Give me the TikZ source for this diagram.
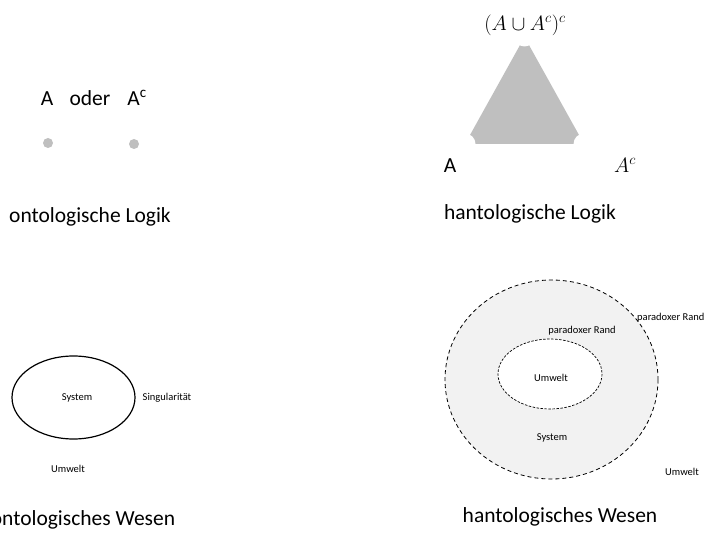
\documentclass[tikz,border=0pt]{standalone}
\usepackage{fontspec}
\setmainfont{Carlito}
\begin{document}
\begin{tikzpicture}[x=1pt,y=-1pt,
  big/.style={font=\fontsize{21.5}{24}\selectfont, inner sep=0pt},
  small/.style={font=\fontsize{10.5}{12}\selectfont, inner sep=0pt},
  gdot/.style={circle, fill=black!25, minimum size=10pt, inner sep=0pt}]
\useasboundingbox (0,0) rectangle (704,534);
% top-left
\node[big, anchor=base] (a1) at (47,105.5) {A};
\node[big, anchor=base] (oder) at (90,105.5) {oder};
\node[big, anchor=base] (ac1) at (137,105.5) {A\textsuperscript{c}};
\node[gdot] (d1) at (48,143) {};
\node[gdot] (d2) at (134,144) {};
\node[big] (ol) at (90,217) {ontologische Logik};
% top-right
\fill[black!25] (524.5,37) -- (465,144) -- (584,144) -- cycle;
\fill[white] (524.5,37) circle (9.5);
\fill[white] (465,144) circle (10.5);
\fill[white] (584,144) circle (10.5);
\node[big] (top) at (525,25) {$(A\cup A^c)^c$};
\node[big, anchor=base] (a2) at (450,172.5) {A};
\node[big, anchor=base] (ac2) at (625,172.5) {$A^c$};
\node[big] (hl) at (530,214) {hantologische Logik};
% bottom-left
\draw[line width=1.2pt] (73.5,397.5) ellipse [x radius=61.5, y radius=41.5];
\node[small] (sys1) at (77,398) {System};
\node[small] (sing) at (167,398) {Singularität};
\node[small] (um1) at (68,469) {Umwelt};
\node[big] (ow) at (83,520) {ontologisches Wesen};
% bottom-right
\draw[fill=black!5, line width=0.8pt, dash pattern=on 4pt off 3pt] (551.5,379.5) ellipse [x radius=106.5, y radius=99.5];
\draw[fill=white, line width=0.7pt, dash pattern=on 2.5pt off 1.5pt] (550,374) ellipse [x radius=52, y radius=35];
\node[small] (pr1) at (582,331) {paradoxer Rand};
\node[small, anchor=west] (pr2) at (637,318) {paradoxer Rand};
\node[small] (um2) at (551,378) {Umwelt};
\node[small] (sys2) at (552,438) {System};
\node[small] (um3) at (682,472) {Umwelt};
\node[big] (hw) at (560,517) {hantologisches Wesen};
\end{tikzpicture}
\end{document}
